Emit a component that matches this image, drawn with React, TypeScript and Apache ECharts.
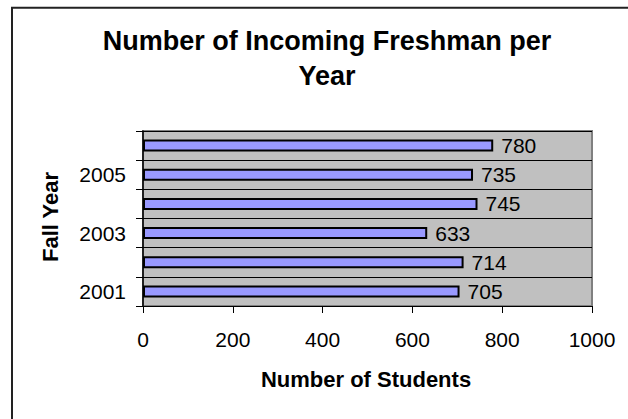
import React, { useEffect, useRef } from "react";
import * as echarts from "echarts";

const categories = ["2001", "2002", "2003", "2004", "2005", "2006"];
const freshmen = [705, 714, 633, 745, 735, 780];
const xTicks = { min: 0, max: 1000, interval: 200 };
const titleLines = ["Number of Incoming Freshman per", "Year"];
const xName = "Number of Students";
const yName = "Fall Year";

const FONT = "'Liberation Sans', Arial, Helvetica, sans-serif";

export default function App() {
  const ref = useRef<HTMLDivElement>(null);
  useEffect(() => {
    document.body.style.margin = "0";
    const chart = echarts.init(ref.current!, null, { renderer: "svg" });
    chart.setOption({
      animation: false,
      backgroundColor: "#ffffff",
      textStyle: { fontFamily: FONT },
      grid: {
        left: 143,
        top: 131,
        width: 449,
        height: 175,
        show: true,
        backgroundColor: "#c0c0c0",
        borderColor: "#808080",
        borderWidth: 2,
        containLabel: false,
        outerBoundsMode: "none",
      },
      xAxis: {
        type: "value",
        min: xTicks.min,
        max: xTicks.max,
        interval: xTicks.interval,
        axisLine: { show: true, lineStyle: { color: "#000", width: 1 } },
        axisTick: { show: true, length: 7, lineStyle: { color: "#000" } },
        axisLabel: {
          color: "#000",
          fontSize: 21,
          margin: 23,
          fontFamily: FONT,
          formatter: (v: number) => String(v),
        },
        splitLine: { show: false },
      },
      yAxis: {
        type: "category",
        data: categories,
        boundaryGap: true,
        axisLine: { show: true, lineStyle: { color: "#000", width: 1.5 } },
        axisTick: { show: true, length: 7, interval: 0, lineStyle: { color: "#000" } },
        axisLabel: { color: "#000", fontSize: 21, margin: 17, interval: 1, fontFamily: FONT },
        splitLine: { show: true, interval: 0, lineStyle: { color: "#000", width: 1 } },
      },
      series: [
        {
          type: "bar",
          data: freshmen,
          barWidth: 12,
          itemStyle: { color: "#9999ff", borderColor: "#000", borderWidth: 2 },
          label: {
            show: true,
            position: "right",
            distance: 8,
            color: "#000",
            fontSize: 21,
            fontFamily: FONT,
          },
        },
      ],
      graphic: [
        {
          type: "rect",
          silent: true,
          shape: { x: 12, y: 7.7, width: 1000, height: 1000 },
          style: { fill: "none", stroke: "#222", lineWidth: 2 },
        },
        {
          type: "text",
          x: 327,
          y: 40.5,
          style: {
            text: titleLines[0],
            font: `bold 27px ${FONT}`,
            fill: "#000",
            textAlign: "center",
            textVerticalAlign: "middle",
          },
        },
        {
          type: "text",
          x: 327,
          y: 75.5,
          style: {
            text: titleLines[1],
            font: `bold 27px ${FONT}`,
            fill: "#000",
            textAlign: "center",
            textVerticalAlign: "middle",
          },
        },
        {
          type: "text",
          x: 366,
          y: 379.5,
          style: {
            text: xName,
            font: `bold 22px ${FONT}`,
            fill: "#000",
            textAlign: "center",
            textVerticalAlign: "middle",
          },
        },
        {
          type: "text",
          x: 50,
          y: 217,
          rotation: Math.PI / 2,
          style: {
            text: yName,
            font: `bold 22px ${FONT}`,
            fill: "#000",
            textAlign: "center",
            textVerticalAlign: "middle",
          },
        },
      ],
    });
    return () => chart.dispose();
  }, []);
  return (
    <div
      ref={ref}
      style={{ position: "fixed", left: 0, top: 0, width: 628, height: 419 }}
    />
  );
}
